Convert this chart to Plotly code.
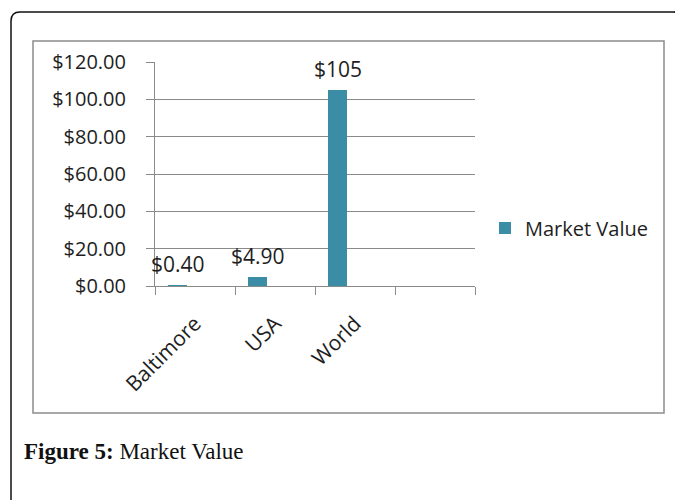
import plotly.graph_objects as go

# ---- data ----
categories = ["Baltimore", "USA", "World", " "]
market_value = [0.40, 4.90, 105.0, None]
value_labels = ["$0.40", "$4.90", "$105", ""]
series_name = "Market Value"
y_tickvals = [0, 20, 40, 60, 80, 100, 120]

# page places the figure 8px in from the top-left corner
OX, OY = 8, 8
W, H = 683 - OX, 500 - OY
L, R, T, B = 155, 475, 62, 286  # plot area in window pixels


def px(xp):
    return (xp - L) / (R - L)


def py(yp):
    return (B - yp) / (B - T)


BAR = "#3A8DA4"
GRID = "#8A8A8A"
TXT = "#1E1E1E"
FONT = "Open Sans"

bar_width = 0.2375
bar_offset = -0.3375

fig = go.Figure()
fig.add_trace(go.Bar(
    x=categories, y=market_value, name=series_name,
    marker=dict(color=BAR, line=dict(width=0)),
    width=bar_width, offset=bar_offset,
    showlegend=True,
))

cat_w = (R - L) / len(categories)
for c, v, t in zip(categories, market_value, value_labels):
    if v is None:
        continue
    fig.add_annotation(
        x=c, y=v, xref="x", yref="y", text=t, showarrow=False,
        xanchor="center", yanchor="bottom",
        xshift=(bar_offset + bar_width / 2) * cat_w, yshift=5,
        font=dict(family=FONT, size=21, color=TXT),
    )

# outer rounded frame (page border)
r = 9
x0, y0, x1, y1 = 11, 12, 682, 520
path = (f"M {px(x0)},{py(y1)} L {px(x0)},{py(y0 + r)} "
        f"Q {px(x0)},{py(y0)} {px(x0 + r)},{py(y0)} "
        f"L {px(x1 - r)},{py(y0)} Q {px(x1)},{py(y0)} {px(x1)},{py(y0 + r)} "
        f"L {px(x1)},{py(y1)}")
fig.add_shape(type="path", path=path, xref="paper", yref="paper",
              line=dict(color="#111111", width=1.5), layer="above")

# chart area border
fig.add_shape(type="rect", xref="paper", yref="paper",
              x0=px(33), y0=py(413), x1=px(664), y1=py(41),
              line=dict(color="#8C8C8C", width=1.5), layer="below")

# caption
fig.add_annotation(
    x=px(22), y=py(451), xref="paper", yref="paper",
    text="<b>Figure 5:</b> Market Value", showarrow=False,
    xanchor="left", yanchor="middle",
    font=dict(family="Liberation Serif", size=23, color="#111111"),
)

fig.update_layout(
    width=W, height=H,
    margin=dict(l=L - OX, r=683 - R, t=T - OY, b=500 - B, pad=0),
    paper_bgcolor="white", plot_bgcolor="white",
    font=dict(family=FONT, size=20, color=TXT),
    bargap=0,
    showlegend=True,
    legend=dict(
        x=px(485), y=py(228), xanchor="left", yanchor="middle",
        font=dict(family=FONT, size=20, color=TXT),
        bgcolor="rgba(0,0,0,0)", borderwidth=0,
    ),
    xaxis=dict(
        type="category", categoryorder="array", categoryarray=categories,
        range=[-0.5, len(categories) - 0.5],
        tickson="boundaries", ticks="outside", ticklen=8, tickcolor=GRID,
        tickangle=-45, showline=True, linecolor=GRID, linewidth=1,
        showgrid=False, zeroline=False, ticklabelstandoff=16,
        tickfont=dict(family=FONT, size=21, color=TXT),
    ),
    yaxis=dict(
        range=[0, 120], tickvals=y_tickvals, tickformat="$,.2f",
        ticks="outside", ticklen=8, tickcolor=GRID,
        showline=True, linecolor=GRID, linewidth=1,
        showgrid=True, gridcolor=GRID, gridwidth=1, zeroline=False,
        ticklabelstandoff=16,
        tickfont=dict(family=FONT, size=20, color=TXT),
    ),
)

fig.write_html("out.html")
